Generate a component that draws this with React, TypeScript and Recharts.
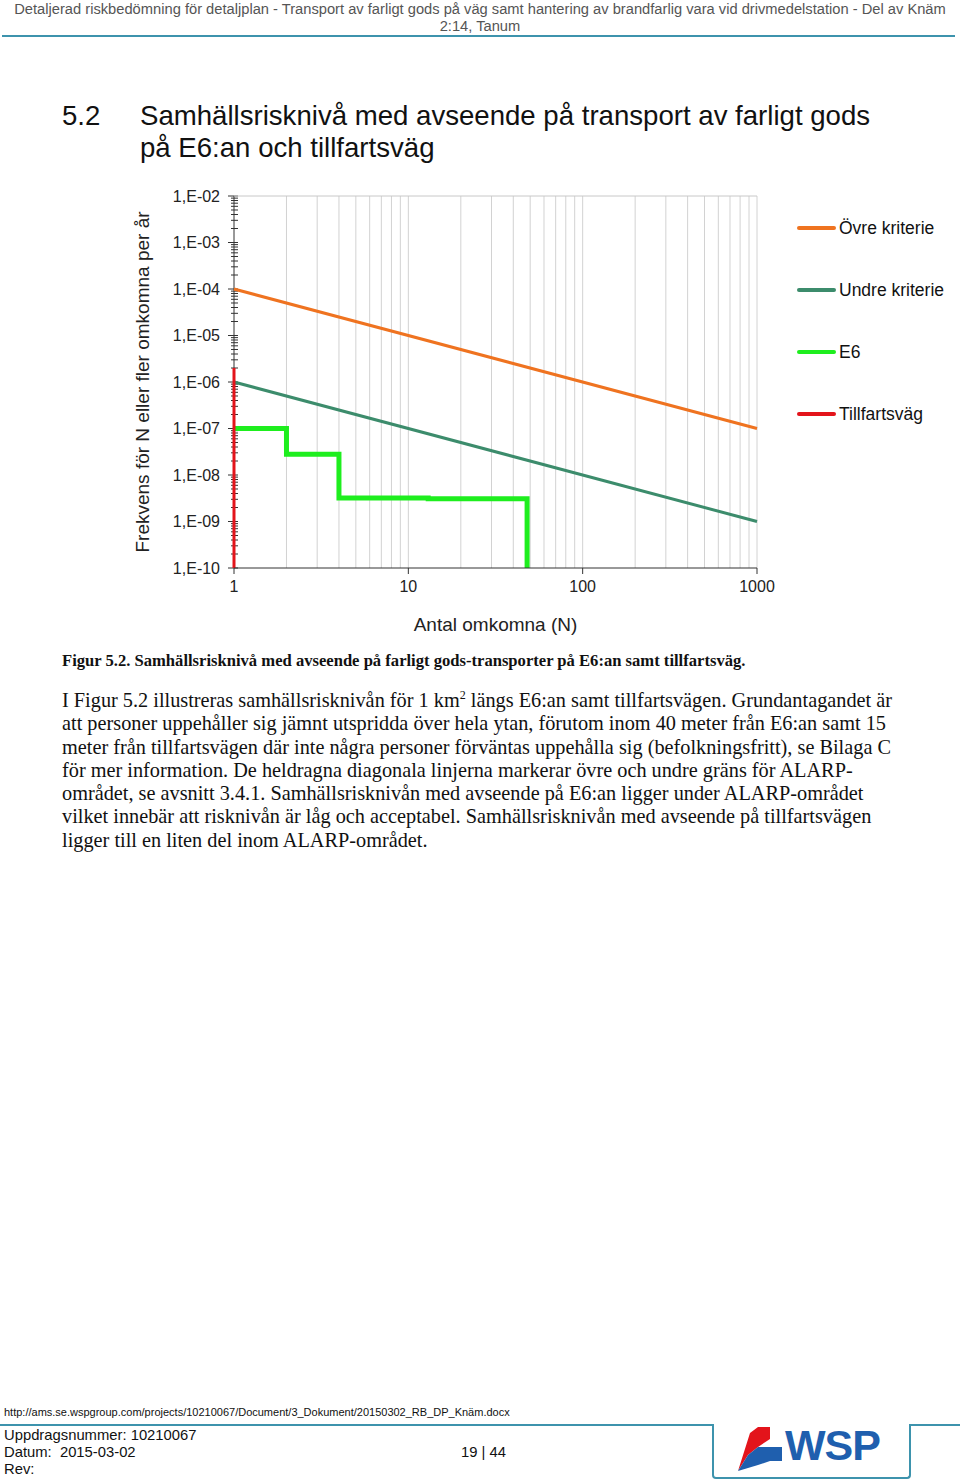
import React from 'react';
import { LineChart, Line, XAxis, YAxis, CartesianGrid, ReferenceLine } from 'recharts';

// F-N kurva, log-log
const N_MAJOR = [1, 10, 100, 1000];
const F_MAJOR = [1e-10, 1e-9, 1e-8, 1e-7, 1e-6, 1e-5, 1e-4, 1e-3, 1e-2];
const MINOR_STEPS = [2, 3, 4, 5, 6, 7, 8, 9];

const ovreKriterie = [
  { n: 1, f: 1e-4 },
  { n: 1000, f: 1e-7 },
];
const undreKriterie = [
  { n: 1, f: 1e-6 },
  { n: 1000, f: 1e-9 },
];
const e6 = [
  { n: 1, f: 1e-7 },
  { n: 2, f: 2.8e-8 },
  { n: 4, f: 3.2e-9 },
  { n: 13, f: 3.1e-9 },
  { n: 48, f: 1e-10 },
];
const tillfartsvag = [
  { n: 1, f: 2e-6 },
  { n: 1, f: 1e-10 },
];

const SERIES = [
  { name: 'Övre kriterie', data: ovreKriterie, color: '#EF7320', width: 3, type: 'linear' },
  { name: 'Undre kriterie', data: undreKriterie, color: '#3C8C6C', width: 3, type: 'linear' },
  { name: 'E6', data: e6, color: '#1EEE1E', width: 5, type: 'stepAfter' },
  { name: 'Tillfartsväg', data: tillfartsvag, color: '#E3141B', width: 3, type: 'linear' },
];

const withMinors = (majors: number[]) => {
  const out: number[] = [];
  majors.forEach((m, i) => {
    out.push(m);
    if (i < majors.length - 1) MINOR_STEPS.forEach((k) => out.push(m * k));
  });
  return out;
};
const N_TICKS = withMinors(N_MAJOR);
const F_TICKS = withMinors(F_MAJOR);

const isMajor = (v: number) => Math.abs(Math.log10(v) - Math.round(Math.log10(v))) < 1e-6;
const fmtF = (v: number) => {
  const e = Math.round(Math.log10(v));
  return `1,E-${String(-e).padStart(2, '0')}`;
};

const AXIS_FONT = 'Arial, "Liberation Sans", sans-serif';

// y-axelns streck ritas i gridet så att serierna hamnar ovanpå
const yTickMark = (p: any) => {
  const major = isMajor(F_TICKS[p.index] ?? 1);
  return <line key={p.key} x1={p.x1 - (major ? 6 : 3)} x2={p.x1 + 4} y1={p.y1} y2={p.y2} stroke="#333" strokeWidth={1} />;
};
const xGridLine = (p: any) => {
  const first = p.index === 0;
  return <line key={p.key} x1={p.x1} x2={p.x2} y1={p.y1} y2={p.y2} stroke={first ? '#333' : '#D2D2D2'} strokeWidth={1} />;
};

const YTick = (props: any) => {
  const { x, y, payload } = props;
  if (!isMajor(payload.value)) return <g />;
  return (
    <text x={x - 14} y={y} dy={5.5} textAnchor="end" fill="#222" fontSize={16} fontFamily={AXIS_FONT}>
      {fmtF(payload.value)}
    </text>
  );
};

const XTick = (props: any) => {
  const { x, y, payload } = props;
  if (!isMajor(payload.value)) return <g />;
  return (
    <g>
      <line x1={x} x2={x} y1={y} y2={y + 6} stroke="#333" strokeWidth={1} />
      <text x={x} y={y + 24} textAnchor="middle" fill="#222" fontSize={16} fontFamily={AXIS_FONT}>
        {payload.value}
      </text>
    </g>
  );
};

const FnChart = () => (
  <LineChart width={660} height={470} margin={{ top: 16, right: 23, bottom: 0, left: 0 }}>
    <CartesianGrid horizontal={yTickMark as any} vertical={xGridLine as any} />
    <ReferenceLine y={1e-2} stroke="#C8C8C8" />
    <XAxis
      dataKey="n"
      type="number"
      scale="log"
      domain={[1, 1000]}
      ticks={N_TICKS}
      interval={0}
      height={82}
      stroke="#333"
      tickLine={false}
      tickSize={0}
      tickMargin={0}
      tick={<XTick />}
      label={{
        content: (p: any) => {
          const vb = p.viewBox;
          return (
            <text x={vb.x + vb.width / 2} y={vb.y + 63} textAnchor="middle" fill="#222" fontSize={19} fontFamily={AXIS_FONT}>
              Antal omkomna (N)
            </text>
          );
        },
      }}
    />
    <YAxis
      type="number"
      scale="log"
      domain={[1e-10, 1e-2]}
      ticks={F_TICKS}
      interval={0}
      width={114}
      axisLine={false}
      tickLine={false}
      tickSize={0}
      tickMargin={0}
      tick={<YTick />}
      label={{
        content: (p: any) => {
          const vb = p.viewBox;
          const cx = vb.x + 29;
          const cy = vb.y + vb.height / 2;
          return (
            <text x={cx} y={cy} transform={`rotate(-90 ${cx} ${cy})`} textAnchor="middle" fill="#222" fontSize={19} fontFamily={AXIS_FONT}>
              Frekvens för N eller fler omkomna per år
            </text>
          );
        },
      }}
    />
    {SERIES.map((s) => (
      <Line
        key={s.name}
        data={s.data}
        dataKey="f"
        name={s.name}
        type={s.type as any}
        stroke={s.color}
        strokeWidth={s.width}
        dot={false}
        activeDot={false}
        isAnimationActive={false}
      />
    ))}
  </LineChart>
);

const ChartLegend = () => (
  <div style={{ position: 'absolute', left: 797, top: 216, fontFamily: AXIS_FONT }}>
    {SERIES.map((s) => (
      <div key={s.name} style={{ display: 'flex', alignItems: 'center', height: 24, marginBottom: 38 }}>
        <div style={{ width: 39, height: 4, borderRadius: 2, background: s.color, marginRight: 3 }} />
        <span style={{ fontSize: 17.5, color: '#111', whiteSpace: 'nowrap' }}>{s.name}</span>
      </div>
    ))}
  </div>
);

const PARAGRAPH = [
  'att personer uppehåller sig jämnt utspridda över hela ytan, förutom inom 40 meter från E6:an samt 15',
  'meter från tillfartsvägen där inte några personer förväntas uppehålla sig (befolkningsfritt), se Bilaga C',
  'för mer information. De heldragna diagonala linjerna markerar övre och undre gräns för ALARP-',
  'området, se avsnitt 3.4.1. Samhällsrisknivån med avseende på E6:an ligger under ALARP-området',
  'vilket innebär att risknivån är låg och acceptabel. Samhällsrisknivån med avseende på tillfartsvägen',
  'ligger till en liten del inom ALARP-området.',
];

const serif = '"Liberation Serif", "Times New Roman", serif';
const sans = 'Arial, "Liberation Sans", sans-serif';

const WspLogo = () => (
  <>
    <svg width={50} height={50} viewBox="0 0 50 50" style={{ position: 'absolute', left: 734, top: 1425 }}>
      <polygon points="4,46 16,8 24,2 24,22 14,30" fill="#E3141B" />
      <polygon points="24,2 36,2 36,14 24,22" fill="#E3141B" />
      <polygon points="4,46 14,30 24,22 24,40" fill="#1F5FAE" />
      <polygon points="24,22 36,22 48,22 48,36 36,36 24,40" fill="#1F5FAE" />
    </svg>
    <div style={{ position: 'absolute', left: 785, top: 1421, fontFamily: sans, fontSize: 43, lineHeight: '48px', fontWeight: 700, color: '#1F5FAE', letterSpacing: -1 }}>
      WSP
    </div>
  </>
);

export default function App() {
  return (
    <div style={{ position: 'absolute', left: 0, top: 0, width: 960, height: 1482, background: '#fff', overflow: 'hidden' }}>
      {/* sidhuvud */}
      <div style={{ position: 'absolute', left: 0, top: 1, width: 960, textAlign: 'center', fontFamily: sans, fontSize: 14.7, lineHeight: '17px', color: '#555' }}>
        Detaljerad riskbedömning för detaljplan - Transport av farligt gods på väg samt hantering av brandfarlig vara vid drivmedelstation - Del av Knäm
        <br />
        2:14, Tanum
      </div>
      <div style={{ position: 'absolute', left: 2, top: 35, width: 953, height: 2, background: '#3D93AD' }} />

      {/* rubrik */}
      <div style={{ position: 'absolute', left: 62, top: 100, fontFamily: sans, fontSize: 27.6, lineHeight: '32px', color: '#111', whiteSpace: 'nowrap' }}>
        <span style={{ display: 'inline-block', width: 78 }}>5.2</span>
        Samhällsrisknivå med avseende på transport av farligt gods
        <br />
        <span style={{ display: 'inline-block', width: 78 }} />
        på E6:an och tillfartsväg
      </div>

      <div style={{ position: 'absolute', left: 120, top: 180 }}>
        <FnChart />
      </div>
      <ChartLegend />

      {/* figurtext */}
      <div style={{ position: 'absolute', left: 62, top: 651, fontFamily: serif, fontWeight: 700, fontSize: 16.6, color: '#111', whiteSpace: 'nowrap' }}>
        Figur 5.2. Samhällsrisknivå med avseende på farligt gods-transporter på E6:an samt tillfartsväg.
      </div>
      <div style={{ position: 'absolute', left: 62, top: 689, fontFamily: serif, fontSize: 20.3, lineHeight: '23.3px', color: '#111', whiteSpace: 'nowrap' }}>
        <div>
          I Figur 5.2 illustreras samhällsrisknivån för 1 km<sup style={{ fontSize: 12, lineHeight: 0 }}>2</sup> längs E6:an samt tillfartsvägen. Grundantagandet är
        </div>
        {PARAGRAPH.map((l) => (
          <div key={l}>{l}</div>
        ))}
      </div>

      {/* sidfot */}
      <div style={{ position: 'absolute', left: 4, top: 1406, fontFamily: sans, fontSize: 11, color: '#111' }}>
        http://ams.se.wspgroup.com/projects/10210067/Document/3_Dokument/20150302_RB_DP_Knäm.docx
      </div>
      <div style={{ position: 'absolute', left: 0, top: 1424, width: 712, height: 2, background: '#3D93AD' }} />
      <div style={{ position: 'absolute', left: 712, top: 1424, width: 195, height: 53, border: '2px solid #3D93AD', borderTop: 'none', borderRadius: '0 0 4px 4px' }} />
      <div style={{ position: 'absolute', left: 909, top: 1424, width: 51, height: 2, background: '#3D93AD' }} />
      <div style={{ position: 'absolute', left: 4, top: 1427, fontFamily: sans, fontSize: 14.8, lineHeight: '17px', color: '#111' }}>
        Uppdragsnummer: 10210067
        <br />
        Datum:&nbsp; 2015-03-02
        <br />
        Rev:
      </div>
      <div style={{ position: 'absolute', left: 461, top: 1444, fontFamily: sans, fontSize: 14.8, color: '#111' }}>19 | 44</div>
      <WspLogo />
    </div>
  );
}
